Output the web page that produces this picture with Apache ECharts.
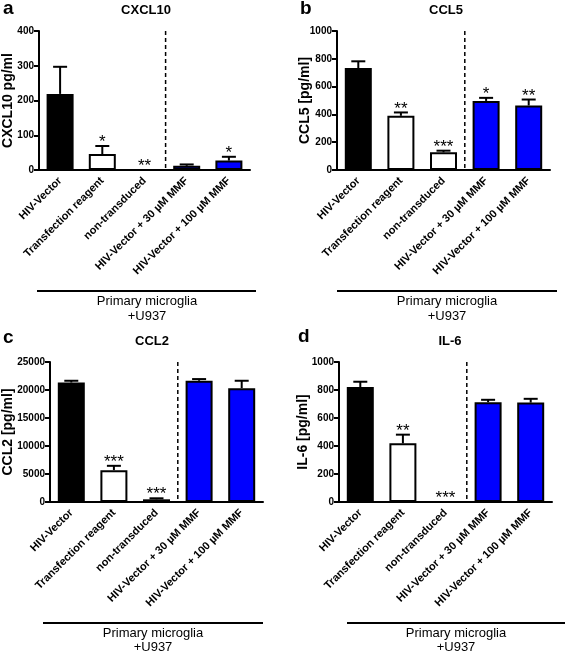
<!DOCTYPE html>
<html>
<head>
<meta charset="utf-8">
<script src="https://cdn.jsdelivr.net/npm/echarts@6/dist/echarts.min.js"></script>
<style>html,body{margin:0;padding:0;background:#fff}#c{width:567px;height:654px}</style>
</head>
<body>
<div id="c"></div>
<script>
const categories = ['HIV-Vector', 'Transfection reagent', 'non-transduced', 'HIV-Vector + 30 µM MMF', 'HIV-Vector + 100 µM MMF'];

const cxcl10Mean = [219, 46, 0, 12, 27];
const cxcl10Sem = [78, 23, 0, 4, 11];
const cxcl10Stars = ['', '*', '**', '', '*'];

const ccl5Mean = [734, 390, 127, 497, 464];
const ccl5Sem = [48, 24, 12, 22, 43];
const ccl5Stars = ['', '**', '***', '*', '**'];

const ccl2Mean = [21340, 5690, 480, 21650, 20330];
const ccl2Sem = [310, 770, 180, 300, 1320];
const ccl2Stars = ['', '***', '***', '', ''];

const il6Mean = [821, 419, 0, 713, 710];
const il6Sem = [38, 62, 0, 17, 27];
const il6Stars = ['', '**', '***', '', ''];

const yTicksA = [0, 100, 200, 300, 400];
const yTicksB = [0, 200, 400, 600, 800, 1000];
const yTicksC = [0, 5000, 10000, 15000, 20000, 25000];
const yTicksD = [0, 200, 400, 600, 800, 1000];

const FONT = '"Liberation Sans", Arial, sans-serif';
const barFill = ['#000000', '#ffffff', '#ffffff', '#0000ff', '#0000ff'];

const panels = [
  { mean: cxcl10Mean, sem: cxcl10Sem, stars: cxcl10Stars, ticks: yTicksA, name: 'CXCL10 pg/ml', gap: 24,
    grid: { left: 39, top: 31, width: 211, height: 139 } },
  { mean: ccl5Mean, sem: ccl5Sem, stars: ccl5Stars, ticks: yTicksB, name: 'CCL5 [pg/ml]', gap: 25,
    grid: { left: 337, top: 31, width: 213, height: 139 } },
  { mean: ccl2Mean, sem: ccl2Sem, stars: ccl2Stars, ticks: yTicksC, name: 'CCL2 [pg/ml]', gap: 35,
    grid: { left: 50, top: 362, width: 213, height: 140 } },
  { mean: il6Mean, sem: il6Sem, stars: il6Stars, ticks: yTicksD, name: 'IL-6 [pg/ml]', gap: 29,
    grid: { left: 339, top: 362, width: 213, height: 140 } }
];

const grids = [], xAxes = [], yAxes = [], series = [];
panels.forEach((p, i) => {
  grids.push(Object.assign({ outerBoundsMode: 'none', containLabel: false }, p.grid));
  xAxes.push({
    type: 'category', gridIndex: i, data: categories,
    axisLine: { lineStyle: { color: '#000', width: 2 } },
    axisTick: { alignWithLabel: true, length: 4, lineStyle: { color: '#000', width: 2 } },
    axisLabel: { rotate: 45, interval: 0, margin: 9, color: '#000', fontSize: 11, fontWeight: 'bold', fontFamily: FONT, hideOverlap: false },
    splitLine: { show: false }
  });
  const tmax = p.ticks[p.ticks.length - 1];
  yAxes.push({
    type: 'value', gridIndex: i, min: p.ticks[0], max: tmax, interval: p.ticks[1] - p.ticks[0],
    name: p.name, nameLocation: 'middle', nameRotate: 90, nameGap: p.gap, nameMoveOverlap: false,
    nameTextStyle: { color: '#000', fontSize: 14, fontWeight: 'bold', fontFamily: FONT },
    axisLine: { show: true, lineStyle: { color: '#000', width: 2 } },
    axisTick: { show: true, length: 5, lineStyle: { color: '#000', width: 2 } },
    axisLabel: { color: '#000', fontSize: 10, fontWeight: 'bold', fontFamily: FONT, margin: 5,
      formatter: function (v) { return String(v); } },
    splitLine: { show: false }
  });
  series.push({
    type: 'bar', xAxisIndex: i, yAxisIndex: i, barWidth: 27,
    data: p.mean.map((v, k) => ({ value: v, itemStyle: { color: barFill[k], borderColor: '#000', borderWidth: 2 } })),
    z: 2
  });
  series.push({
    type: 'custom', xAxisIndex: i, yAxisIndex: i, z: 3,
    data: p.mean.map((v, k) => [k, v, p.sem[k]]),
    renderItem: function (params, api) {
      const idx = api.value(0), m = api.value(1), s = api.value(2);
      if (!(s > 0)) return null;
      const b = api.coord([idx, m]);
      const t = api.coord([idx, m + s]);
      const st = { stroke: '#000', lineWidth: 2 };
      return { type: 'group', children: [
        { type: 'line', shape: { x1: b[0], y1: b[1], x2: t[0], y2: t[1] }, style: st },
        { type: 'line', shape: { x1: t[0] - 7, y1: t[1], x2: t[0] + 7, y2: t[1] }, style: st }
      ] };
    }
  });
  series.push({
    type: 'custom', xAxisIndex: i, yAxisIndex: i, z: 4,
    data: p.mean.map((v, k) => [k, v + p.sem[k]]),
    renderItem: function (params, api) {
      const star = p.stars[api.value(0)];
      if (!star) return null;
      const pt = api.coord([api.value(0), api.value(1)]);
      return { type: 'text', style: { text: star, x: pt[0], y: pt[1] + 5, align: 'center', verticalAlign: 'bottom',
        fill: '#000', font: '17px ' + FONT } };
    }
  });
  series.push({
    type: 'custom', xAxisIndex: i, yAxisIndex: i, z: 1,
    data: [[0, tmax]],
    renderItem: function (params, api) {
      const a = api.coord([2, 0]), c = api.coord([3, 0]), top = api.coord([2, api.value(1)]);
      const x = (a[0] + c[0]) / 2;
      return { type: 'line', shape: { x1: x, y1: top[1], x2: x, y2: a[1] },
        style: { stroke: '#000', lineWidth: 1.5, lineDash: [4, 3] } };
    }
  });
});

function txt(text, x, y, font, align) {
  return { type: 'text', x: x, y: y, style: { text: text, font: font, fill: '#000', align: align || 'center', verticalAlign: 'middle' } };
}
function hline(x1, x2, y) {
  return { type: 'line', shape: { x1: x1, y1: y, x2: x2, y2: y }, style: { stroke: '#000', lineWidth: 2 } };
}
const titleFont = 'bold 13px ' + FONT;
const letterFont = 'bold 19px ' + FONT;
const groupFont = '13px ' + FONT;
const graphic = [
  txt('a', 3, 9, letterFont, 'left'), txt('CXCL10', 146, 10, titleFont),
  txt('b', 300, 9, letterFont, 'left'), txt('CCL5', 446, 10, titleFont),
  txt('c', 3, 338, letterFont, 'left'), txt('CCL2', 152, 341, titleFont),
  txt('d', 298, 337, letterFont, 'left'), txt('IL-6', 450, 341, titleFont),
  hline(37, 256, 291), txt('Primary microglia', 147, 301, groupFont), txt('+U937', 147, 316, groupFont),
  hline(337, 557, 291), txt('Primary microglia', 447, 301, groupFont), txt('+U937', 447, 316, groupFont),
  hline(43, 263, 623), txt('Primary microglia', 153, 633, groupFont), txt('+U937', 153, 647, groupFont),
  hline(347, 565, 623), txt('Primary microglia', 456, 633, groupFont), txt('+U937', 456, 647, groupFont)
];

const chart = echarts.init(document.getElementById('c'), null, { renderer: 'canvas' });
chart.setOption({
  backgroundColor: '#fff',
  animation: false,
  grid: grids, xAxis: xAxes, yAxis: yAxes, series: series, graphic: graphic
});
</script>
</body>
</html>
